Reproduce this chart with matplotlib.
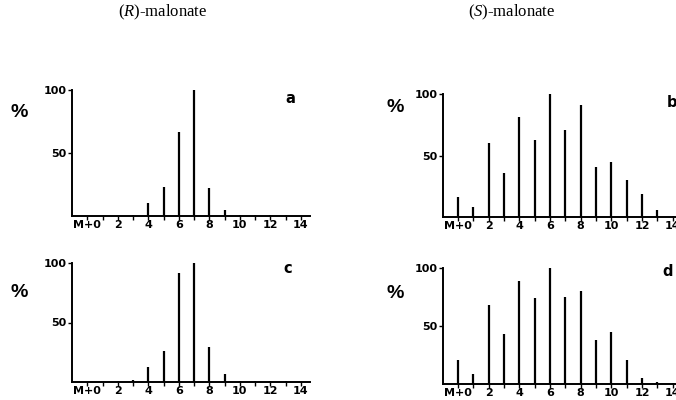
import numpy as np
import matplotlib.pyplot as plt

plt.rcParams['mathtext.fontset'] = 'custom'
plt.rcParams['mathtext.rm'] = 'Liberation Serif'
plt.rcParams['mathtext.it'] = 'Liberation Serif:italic'

# mass isotopomer distributions, M+0 .. M+14 (% of base peak)
masses = np.arange(0, 15)
r_mal_a = [0, 0, 0, 1, 10, 23, 67, 100, 22, 5, 1, 0.5, 0.5, 0.5, 0]
s_mal_b = [16, 8, 60, 36, 81, 63, 100, 71, 91, 41, 45, 30, 19, 6, 1]
r_mal_c = [0, 0, 1, 2, 13, 26, 92, 100, 29, 7, 1, 0.5, 0.5, 0.5, 0]
s_mal_d = [21, 9, 68, 43, 89, 74, 100, 75, 80, 38, 45, 21, 5, 2, 1]

xticks = [0, 2, 4, 6, 8, 10, 12, 14]
xticklabels = ['M+0', '2', '4', '6', '8', '10', '12', '14']

fig = plt.figure(figsize=(6.76, 4.0), dpi=100)

# axes boxes in figure fractions (left, bottom, width, height)
boxes = {
    'a': [0.1065, 0.46, 0.352, 0.315],
    'b': [0.655, 0.4575, 0.3536, 0.3075],
    'c': [0.1065, 0.045, 0.352, 0.2975],
    'd': [0.655, 0.04, 0.3536, 0.29],
}
data = {'a': r_mal_a, 'b': s_mal_b, 'c': r_mal_c, 'd': s_mal_d}
letter_pos = {'a': (0.916, 0.93), 'b': (0.958, 0.93), 'c': (0.907, 0.95), 'd': (0.94, 0.97)}
pct_pos = {'a': (-0.22, 0.825), 'b': (-0.2, 0.89), 'c': (-0.22, 0.75), 'd': (-0.2, 0.78)}

tick_font = dict(family='DejaVu Sans', fontweight='bold')

for key in ['a', 'b', 'c', 'd']:
    ax = fig.add_axes(boxes[key])
    ax.vlines(masses, 0, data[key], color='black', linewidth=1.6, clip_on=False)
    ax.set_xlim(-1.0, 14.6)
    ax.set_ylim(0, 100)
    ax.spines['top'].set_visible(False)
    ax.spines['right'].set_visible(False)
    ax.spines['left'].set_linewidth(1.4)
    ax.spines['bottom'].set_linewidth(1.4)
    ax.set_xticks(xticks)
    ax.set_xticklabels(xticklabels, fontsize=8, **tick_font)
    ax.set_xticks(masses, minor=True)
    ax.set_yticks([50, 100])
    ax.set_yticklabels(['50', '100'], fontsize=8, **tick_font)
    ax.tick_params(axis='x', which='both', length=3, width=1, pad=0)
    ax.tick_params(axis='y', length=3, width=1, pad=1)
    lx, ly = letter_pos[key]
    ax.text(lx, ly, key, transform=ax.transAxes, fontsize=10.5,
            ha='center', va='center', **tick_font)
    px, py = pct_pos[key]
    ax.text(px, py, '%', transform=ax.transAxes, fontsize=14,
            ha='center', va='center', family='Liberation Sans', fontweight='bold')

fig.text(0.24, 0.97, r'$\mathit{(R)}$-malonate', family='Liberation Serif',
         fontsize=12, ha='center', va='center')
fig.text(0.757, 0.97, r'$\mathit{(S)}$-malonate', family='Liberation Serif',
         fontsize=12, ha='center', va='center')

fig.savefig('out.png', dpi=100)
